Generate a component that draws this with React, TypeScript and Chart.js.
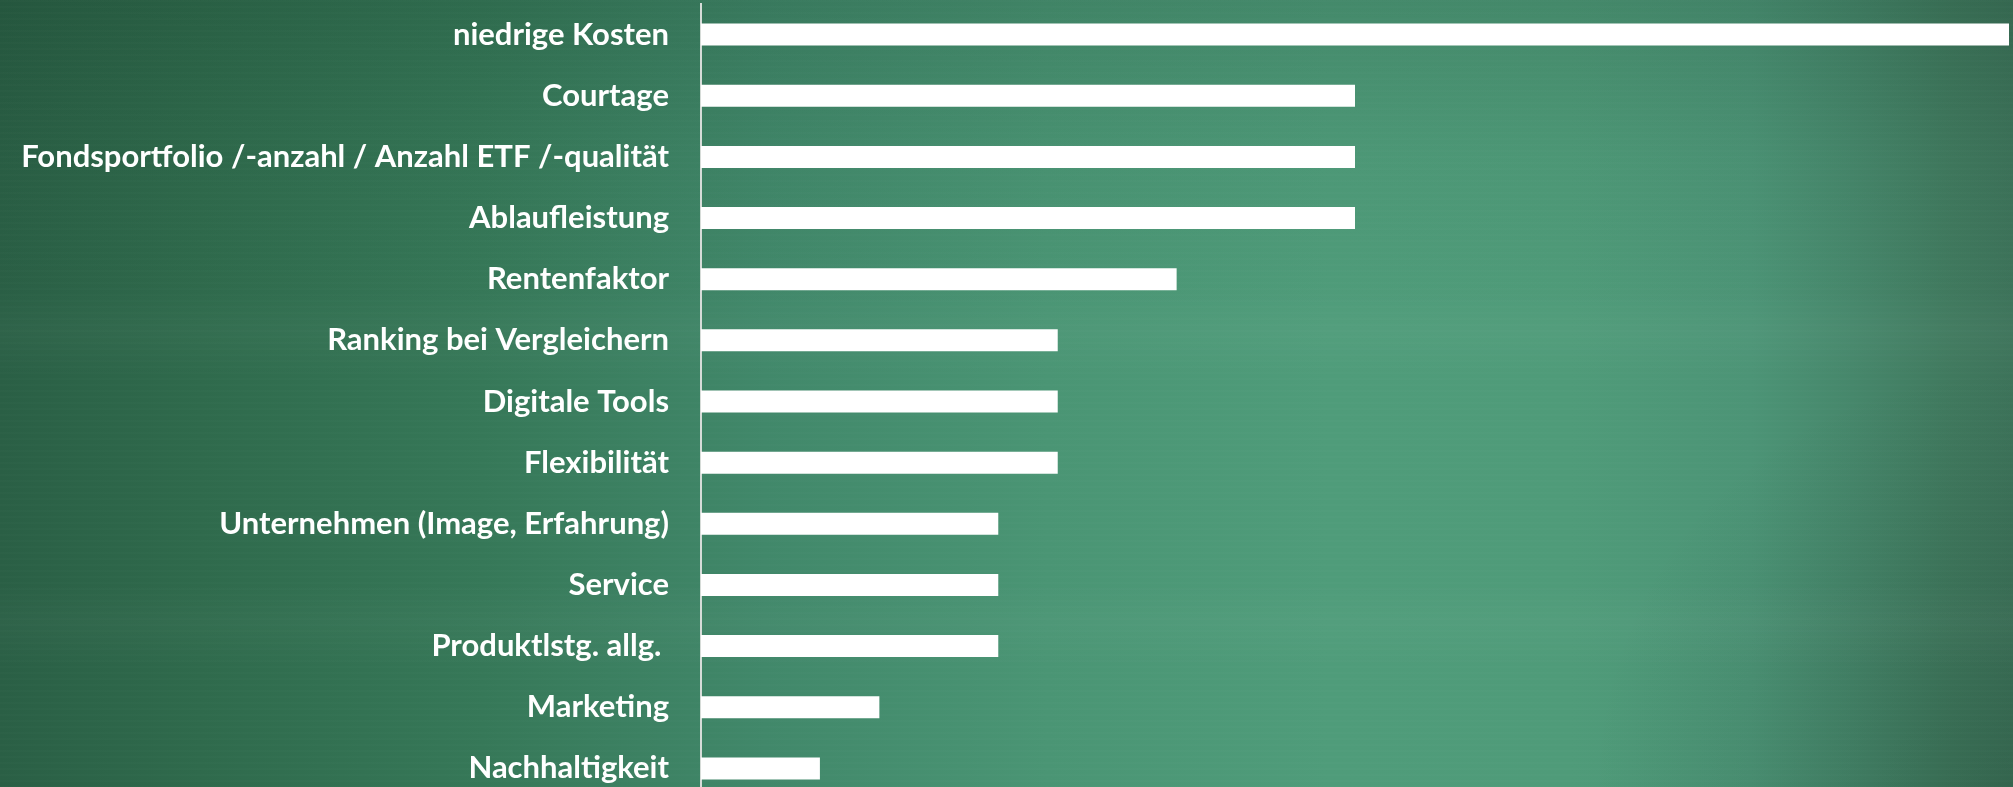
import React, { useEffect, useRef } from "react";
import { Chart, registerables } from "chart.js";

Chart.register(...registerables);

const categories = [
  "niedrige Kosten",
  "Courtage",
  "Fondsportfolio /-anzahl / Anzahl ETF /-qualität",
  "Ablaufleistung",
  "Rentenfaktor",
  "Ranking bei Vergleichern",
  "Digitale Tools",
  "Flexibilität",
  "Unternehmen (Image, Erfahrung)",
  "Service",
  "Produktlstg. allg. ",
  "Marketing",
  "Nachhaltigkeit",
];

const values = [22, 11, 11, 11, 8, 6, 6, 6, 5, 5, 5, 3, 2];

const xMin = 0;
const xMax = 22;

export default function App() {
  const ref = useRef<HTMLCanvasElement>(null);

  useEffect(() => {
    document.body.style.margin = "0";
    document.body.style.overflow = "hidden";
    const chart = new Chart(ref.current as HTMLCanvasElement, {
      type: "bar",
      data: {
        labels: categories,
        datasets: [
          {
            data: values,
            backgroundColor: "#ffffff",
            borderWidth: 0,
            barPercentage: 0.36,
            categoryPercentage: 1,
          },
        ],
      },
      options: {
        indexAxis: "y",
        responsive: false,
        animation: false,
        layout: { padding: { top: 4, right: 4, bottom: 0, left: 0 } },
        plugins: {
          legend: { display: false },
          tooltip: { enabled: false },
        },
        scales: {
          x: { display: false, min: xMin, max: xMax },
          y: {
            grid: { display: false, drawTicks: false },
            border: { display: true, color: "#d6dcd8", width: 2 },
            ticks: {
              color: "#ffffff",
              autoSkip: false,
              padding: 32,
              font: { family: "Lato", weight: "bold", size: 31 },
            },
            afterFit: (s: any) => {
              s.width = 701;
              s.paddingTop = 0;
              s.paddingBottom = 0;
            },
          },
        },
      },
    } as any);
    return () => chart.destroy();
  }, []);

  return (
    <div
      style={{
        position: "relative",
        width: 2013,
        height: 787,
        overflow: "hidden",
        background: [
          "repeating-linear-gradient(180deg, rgba(255,255,255,0.012) 0px, rgba(255,255,255,0.012) 2px, rgba(0,0,0,0) 2px, rgba(0,0,0,0) 6px)",
          "linear-gradient(180deg, rgba(255,255,255,0) 0%, rgba(255,255,255,0) 37%, rgba(255,255,255,0.025) 42%, rgba(255,255,255,0) 48%, rgba(255,255,255,0) 74%, rgba(255,255,255,0.025) 79%, rgba(255,255,255,0) 85%)",
          "radial-gradient(ellipse 420px 420px at 100% 100%, rgba(20,50,35,0.22), rgba(20,50,35,0))",
          "linear-gradient(180deg, rgba(10,40,25,0.16) 0%, rgba(10,40,25,0.04) 20%, rgba(0,0,0,0) 40%)",
          "linear-gradient(90deg, #2a5f45 0%, #2f6a4c 10%, #367858 24%, #41886a 38%, #4a9574 52%, #4f9c7a 66%, #4f9b79 78%, #4c9476 87%, #46876b 92%, #40795e 97%, #3d735a 100%)",
        ].join(", "),
      }}
    >
      <canvas
        ref={ref}
        width={2013}
        height={799}
        style={{ display: "block", position: "absolute", left: 0, top: 0 }}
      />
    </div>
  );
}
